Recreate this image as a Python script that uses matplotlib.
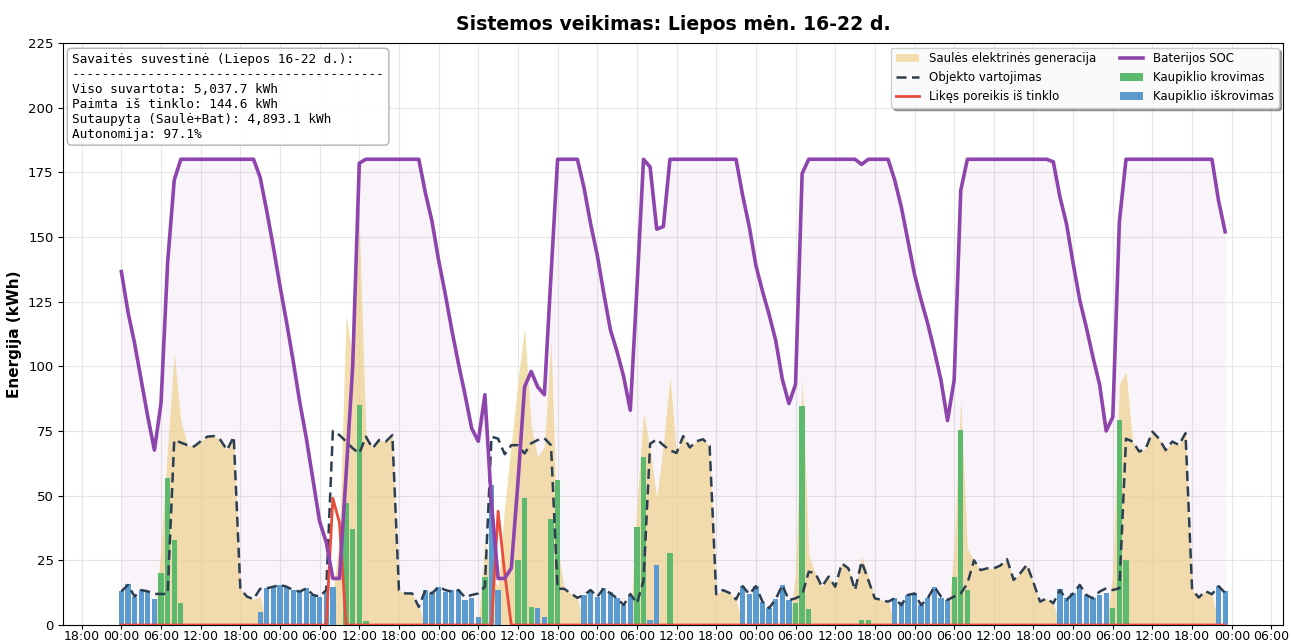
#!/usr/bin/env python3
"""Savaitės sistemos veikimo grafikas (Liepos 16-22 d.) -> out.png"""
import pandas as pd
import matplotlib
matplotlib.use('Agg')
import matplotlib.pyplot as plt
import matplotlib.dates as mdates
from matplotlib.patches import Patch
from matplotlib.lines import Line2D


START = '2024-07-16 00:00'

# hourly values, one row per day (00:00 .. 23:00)
solar = [
    0, 0, 0, 0, 0, 0, 30, 69, 105, 79, 69.5, 69, 71, 72.8, 73, 71.5, 67.6, 72.8, 14, 11, 10, 11, 0, 0,
    0, 0, 0, 0, 0, 0, 0, 0, 11, 35, 120, 103, 155, 74, 68.3, 71.5, 70.9, 73.4, 13.5, 12.2, 12.2, 7, 0, 0,
    0, 0, 0, 0, 0, 0, 0, 33, 19, 15, 46, 70, 94, 115, 77, 65, 69, 110.5, 30, 14, 12.2, 10.5, 0, 0,
    0, 0, 0, 0, 0, 0, 46, 82, 68, 49, 70, 96, 66.5, 73, 68.6, 71, 71.8, 69.3, 11.9, 13.5, 12.4, 9.9, 0, 0,
    0, 0, 0, 0, 0, 0, 19, 96, 27, 20, 14.8, 18.7, 14.8, 23.8, 21.9, 13.5, 26.4, 19.3, 10.3, 9.7, 9, 0, 0, 0,
    0, 0, 0, 0, 0, 0, 30, 87, 29.5, 25, 21.2, 21.9, 21.9, 23, 25.4, 17.4, 20, 23.3, 16.4, 9, 10.3, 8.4, 0, 0,
    0, 0, 0, 0, 0, 0, 20, 93, 98, 70.9, 67, 68.3, 74.7, 72, 67.6, 70.9, 69.6, 74.1, 13.7, 10.6, 13.1, 11.9, 0, 0,
]

load = [
    13, 15.5, 11, 13.5, 13, 12, 12, 12, 71.5, 70.5, 69.5, 69, 71, 72.8, 73, 71.5, 67.6, 72.8, 14, 11, 10, 14, 14.2, 14.8,
    15.5, 14.8, 13.5, 12.9, 14.2, 11.6, 11, 13.5, 75, 73.4, 70.9, 68.3, 66.3, 72.8, 68.3, 71.5, 70.9, 73.4, 13.5, 12.2, 12.2, 7, 13.5, 12.2,
    14.8, 13.5, 12.9, 13.5, 10.7, 11.6, 12.2, 14.8, 72.8, 72, 66, 69.5, 69.5, 66.3, 70.2, 71.5, 72.2, 69.5, 14, 14, 12.2, 10.5, 11.6, 13.5,
    10.9, 14.2, 12.2, 10.3, 7.7, 12, 8.4, 17, 70, 71.8, 69.5, 67.5, 66.5, 73, 68.6, 71, 71.8, 69.3, 11.9, 13.5, 12.4, 9.9, 15, 11.9,
    15, 9, 6.5, 10, 15.4, 9.6, 10.3, 11.6, 20.6, 20, 14.8, 18.7, 14.8, 23.8, 21.9, 13.5, 24.5, 17.4, 10.3, 9.7, 9, 10.3, 7.7, 11.6,
    12.2, 7.7, 10.3, 14.8, 11, 9.7, 11, 12.2, 16, 25, 21.2, 21.9, 21.9, 23, 25.4, 17.4, 20, 23.3, 16.4, 9, 10.3, 8.4, 13.5, 9.7,
    12.2, 15.5, 11.6, 10.3, 12.9, 14.2, 13.5, 14.2, 72, 70.9, 67, 68.3, 74.7, 72, 67.6, 70.9, 69.6, 74.1, 13.7, 10.6, 13.1, 11.9, 15, 12.4,
]

grid = [
    0] * 32 + [49, 39.5] + [0] * 23 + [44, 20] + [0] * 109

charge = [
    0, 0, 0, 0, 0, 0, 20, 57, 33, 8.5, 0, 0, 0, 0, 0, 0, 0, 0, 0, 0, 0, 0, 0, 0,
    0, 0, 0, 0, 0, 0, 0, 0, 0, 0, 47, 37, 85, 1.5, 0, 0, 0, 0, 0, 0, 0, 0, 0, 0,
    0, 0, 0, 0, 0, 0, 0, 18.7, 0, 0, 0, 0, 25, 49, 7, 0, 0, 41, 56, 0, 0, 0, 0, 0,
    0, 0, 0, 0, 0, 0, 38, 65, 0, 0, 0, 28, 0, 0, 0, 0, 0, 0, 0, 0, 0, 0, 0, 0,
    0, 0, 0, 0, 0, 0, 8.5, 84.5, 6, 0, 0, 0, 0, 0, 0, 0, 1.9, 1.9, 0, 0, 0, 0, 0, 0,
    0, 0, 0, 0, 0, 0, 18.7, 75.4, 13.5, 0, 0, 0, 0, 0, 0, 0, 0, 0, 0, 0, 0, 0, 0, 0,
    0, 0, 0, 0, 0, 0, 6.6, 79.2, 25.1, 0, 0, 0, 0, 0, 0, 0, 0, 0, 0, 0, 0, 0, 0, 0,
]

discharge = [
    13, 16, 11, 13.5, 13, 10, 0, 0, 0, 0, 0, 0, 0, 0, 0, 0, 0, 0, 0, 0, 0, 5, 14.2, 14.8,
    15.5, 14.8, 13.5, 12.9, 14.2, 11.6, 11, 13.5, 14.8, 0, 0, 0, 0, 0, 0, 0, 0, 0, 0, 0, 0, 0, 13.5, 12.2,
    14.8, 12.9, 13.5, 13.5, 9.7, 10.3, 3.2, 0, 54, 13.5, 0, 0, 0, 0, 0, 6.4, 3.2, 0, 0, 0, 0, 0, 11.6, 13.5,
    10.9, 14.2, 12.9, 10.3, 7.7, 11.6, 0, 0, 2, 23, 0, 0, 0, 0, 0, 0, 0, 0, 0, 0, 0, 0, 15, 12,
    15, 9, 6.5, 10, 15.5, 9.5, 0, 0, 0, 0, 0, 0, 0, 0, 0, 0, 0, 0, 0, 0, 0, 10.3, 8.7, 11.6,
    12.2, 7.7, 10.3, 14.8, 10.3, 9.7, 0, 0, 0, 0, 0, 0, 0, 0, 0, 0, 0, 0, 0, 0, 0, 0, 14.1, 10.3,
    12.2, 14.8, 11.6, 10.3, 11.6, 12.2, 0, 0, 0, 0, 0, 0, 0, 0, 0, 0, 0, 0, 0, 0, 0, 0, 15, 13,
]

soc = [
    136.6, 121, 108.9, 94.7, 80.5, 67.6, 85.7, 140, 172, 180, 180, 180, 180, 180, 180, 180, 180, 180, 180, 180, 180, 173, 160, 146,
    131, 117, 102, 86, 72, 56, 40, 32, 18, 18, 58, 100, 178.5, 180, 180, 180, 180, 180, 180, 180, 180, 180, 167, 156,
    141, 128, 114, 101, 89, 76, 71, 89, 47, 18, 18, 22, 55, 92, 98, 92, 89, 135, 180, 180, 180, 180, 169, 155,
    143, 128, 114, 105.6, 96, 83, 130, 180, 177, 153, 154, 180, 180, 180, 180, 180, 180, 180, 180, 180, 180, 180, 166, 154,
    139, 129, 120, 110, 95, 85.6, 93, 174.5, 180, 180, 180, 180, 180, 180, 180, 180, 178, 180, 180, 180, 180, 172, 161.6, 148.7,
    135.6, 125.6, 116.5, 106, 94.7, 79, 94.7, 168, 180, 180, 180, 180, 180, 180, 180, 180, 180, 180, 180, 180, 180, 179, 165.5, 155,
    139.8, 125.6, 115, 103.5, 93, 75, 80.4, 156, 180, 180, 180, 180, 180, 180, 180, 180, 180, 180, 180, 180, 180, 180, 164, 152,
]

summary_lines = [
    'Savaitės suvestinė (Liepos 16-22 d.):',
    '-' * 41,
    'Viso suvartota: 5,037.7 kWh',
    'Paimta iš tinklo: 144.6 kWh',
    'Sutaupyta (Saulė+Bat): 4,893.1 kWh',
    'Autonomija: 97.1%',
]

C_SOLAR = '#efd28f'
C_LOAD = '#2c3e50'
C_GRID = '#e74c3c'
C_SOC = '#8e44ad'
C_CHG = '#5cb96e'
C_DIS = '#5b9bd0'


def main():
    t = pd.date_range(START, periods=len(load), freq='h')

    fig = plt.figure(figsize=(12.91, 6.44), dpi=100)
    ax = fig.add_axes([0.049, 0.0295, 0.945, 0.904])

    ax.fill_between(t, soc, 0, color=C_SOC, alpha=0.06, lw=0, zorder=1)
    ax.fill_between(t, solar, 0, color=C_SOLAR, alpha=0.72, lw=0, zorder=2)

    w = 0.8 / 24
    ax.bar(t, charge, width=w, color=C_CHG, zorder=3)
    ax.bar(t, discharge, width=w, color=C_DIS, zorder=3)

    ax.plot(t, load, color=C_LOAD, lw=1.8, ls=(0, (4, 2.2)), zorder=4)
    ax.plot(t, grid, color=C_GRID, lw=2, zorder=5)
    ax.plot(t, soc, color=C_SOC, lw=2.6, zorder=6)

    ax.set_ylim(0, 225)
    ax.set_yticks(range(0, 226, 25))
    ax.xaxis.set_major_locator(mdates.HourLocator(byhour=[0, 6, 12, 18]))
    ax.xaxis.set_major_formatter(mdates.DateFormatter('%H:%M'))
    ax.tick_params(labelsize=9.5)
    ax.tick_params(axis='x', labelsize=9, length=3, pad=0.8)
    ax.grid(True, color='#d8d8d8', alpha=0.6, lw=0.8, zorder=0)
    ax.set_axisbelow(True)

    ax.set_ylabel('Energija (kWh)', fontsize=11, fontweight='bold')
    ax.set_title('Sistemos veikimas: Liepos mėn. 16-22 d.',
                 fontsize=13.6, fontweight='bold', pad=9)

    ax.text(0.007, 0.983, '\n'.join(summary_lines), transform=ax.transAxes,
            va='top', ha='left', family='DejaVu Sans Mono', fontsize=9.2,
            bbox=dict(boxstyle='round,pad=0.35', facecolor='white',
                      edgecolor='#aaaaaa', alpha=0.9), zorder=10)

    handles = [
        Patch(facecolor=C_SOLAR, alpha=0.72, label='Saulės elektrinės generacija'),
        Line2D([], [], color=C_LOAD, lw=1.8, ls=(0, (4, 2.2)), label='Objekto vartojimas'),
        Line2D([], [], color=C_GRID, lw=2, label='Likęs poreikis iš tinklo'),
        Line2D([], [], color=C_SOC, lw=2.6, label='Baterijos SOC'),
        Patch(facecolor=C_CHG, label='Kaupiklio krovimas'),
        Patch(facecolor=C_DIS, label='Kaupiklio iškrovimas'),
    ]
    leg = ax.legend(handles=handles, loc='upper right', ncol=2, fontsize=8.5,
                    shadow=True, framealpha=0.95, borderaxespad=0.4)
    leg.set_zorder(11)

    fig.savefig('out.png', dpi=100)
    plt.close(fig)


if __name__ == '__main__':
    main()
